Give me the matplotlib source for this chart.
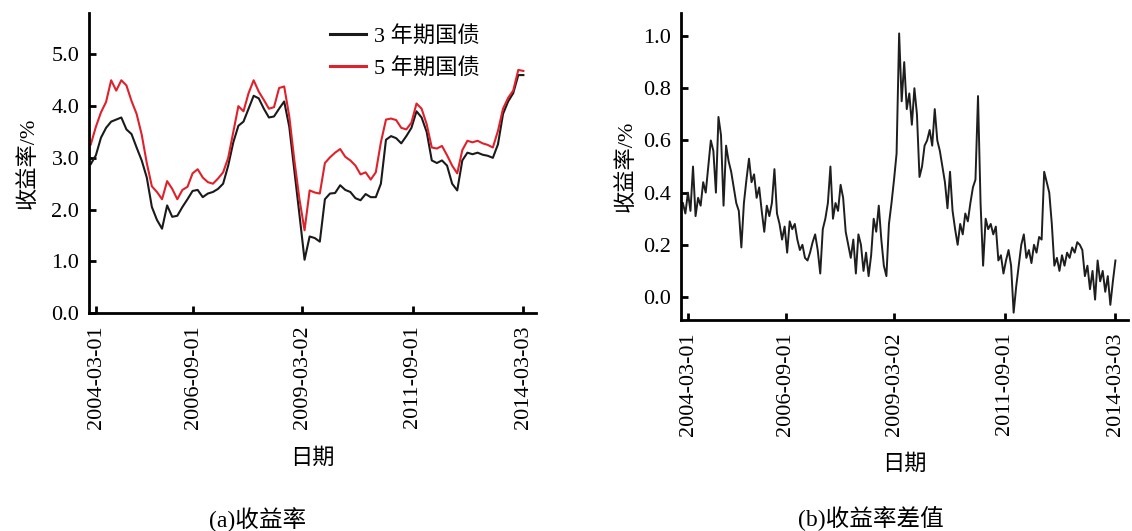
import numpy as np
import matplotlib
matplotlib.use('Agg')
import matplotlib.pyplot as plt
from matplotlib.ticker import FormatStrFormatter

# ---------------- data ----------------
tick_labels = ['2004-03-01', '2006-09-01', '2009-03-02', '2011-09-01', '2014-03-03']
tick_days = [30, 565, 1162, 1772, 2380]          # trading-day index of each label

yield_3y = [2.88, 3.05, 3.39, 3.58, 3.70, 3.74, 3.78, 3.55, 3.46, 3.20,
            2.95, 2.62, 2.05, 1.80, 1.63, 2.08, 1.86, 1.88, 2.05, 2.20,
            2.36, 2.38, 2.24, 2.31, 2.34, 2.40, 2.50, 2.85, 3.30, 3.62,
            3.70, 3.95, 4.20, 4.15, 3.95, 3.78, 3.80, 3.95, 4.09, 3.60,
            2.75, 1.90, 1.03, 1.48, 1.45, 1.38, 2.20, 2.31, 2.32, 2.47,
            2.38, 2.34, 2.22, 2.18, 2.30, 2.24, 2.24,
            2.50, 3.35, 3.42, 3.38, 3.28, 3.42, 3.58, 3.90, 3.78, 3.50,
            2.95, 2.90, 2.95, 2.85, 2.50, 2.37, 2.95, 3.10, 3.07, 3.10,
            3.06, 3.04, 3.00, 3.26, 3.85, 4.09, 4.25, 4.60, 4.60]

yield_5y = [3.26, 3.60, 3.88, 4.08, 4.50, 4.30, 4.50, 4.40, 4.10, 3.85,
            3.45, 2.90, 2.45, 2.34, 2.20, 2.55, 2.40, 2.20, 2.38, 2.44,
            2.70, 2.78, 2.62, 2.53, 2.50, 2.60, 2.72, 3.00, 3.50, 4.00,
            3.90, 4.25, 4.50, 4.28, 4.12, 3.95, 3.98, 4.35, 4.38, 3.80,
            2.95, 2.20, 1.60, 2.37, 2.33, 2.31, 2.90, 3.01, 3.10, 3.17,
            3.02, 2.95, 2.85, 2.68, 2.72, 2.58, 2.72,
            3.30, 3.74, 3.76, 3.73, 3.58, 3.55, 3.68, 4.05, 3.95, 3.65,
            3.20, 3.18, 3.23, 3.05, 2.85, 2.70, 3.15, 3.33, 3.30, 3.33,
            3.28, 3.25, 3.20, 3.52, 3.95, 4.16, 4.30, 4.70, 4.68]

spread = [0.36, 0.32, 0.40, 0.33, 0.50, 0.31, 0.38, 0.35, 0.44, 0.40,
          0.50, 0.60, 0.56, 0.40, 0.69, 0.62, 0.35, 0.58, 0.52, 0.48,
          0.42, 0.36, 0.33, 0.19, 0.36, 0.45, 0.53, 0.44, 0.47, 0.38,
          0.42, 0.33, 0.25, 0.35, 0.31, 0.36, 0.49, 0.32, 0.28, 0.22,
          0.27, 0.17, 0.29, 0.26, 0.28, 0.22, 0.18, 0.20, 0.15, 0.14,
          0.17, 0.21, 0.24, 0.18, 0.09, 0.26, 0.30, 0.36, 0.50, 0.30,
          0.36, 0.33, 0.43, 0.38, 0.25, 0.20, 0.15, 0.22, 0.09, 0.24,
          0.20, 0.10, 0.17, 0.08, 0.16, 0.30, 0.25, 0.35, 0.22, 0.12,
          0.08, 0.28, 0.36, 0.45, 0.55, 1.01, 0.75, 0.90, 0.72, 0.78,
          0.66, 0.80, 0.70, 0.46, 0.50, 0.58, 0.60, 0.64, 0.58, 0.72,
          0.60, 0.56, 0.50, 0.44, 0.34, 0.48, 0.33, 0.26, 0.20, 0.28,
          0.24, 0.32, 0.29, 0.36, 0.42, 0.45, 0.77, 0.36, 0.12, 0.30,
          0.26, 0.28, 0.24, 0.27, 0.14, 0.16, 0.09, 0.14, 0.18, 0.12,
          -0.06, 0.04, 0.12, 0.20, 0.24, 0.15, 0.18, 0.13, 0.20, 0.17,
          0.23, 0.22, 0.48, 0.44, 0.40, 0.28, 0.12, 0.15, 0.10, 0.16,
          0.12, 0.17, 0.15, 0.19, 0.17, 0.21, 0.20, 0.18, 0.08, 0.12,
          0.03, 0.10, -0.01, 0.14, 0.06, 0.10, 0.02, 0.08, -0.03, 0.06,
          0.14]

yield_step = 28      # trading days between yield samples
spread_step = 14     # trading days between spread samples
day_y = np.arange(len(yield_3y)) * yield_step
day_s = np.arange(len(spread)) * spread_step

# ---------------- styling ----------------
FONT = ['Liberation Serif', 'Noto Sans CJK SC']
plt.rcParams['font.family'] = FONT
plt.rcParams['axes.unicode_minus'] = False

fig = plt.figure(figsize=(11.32, 5.31), dpi=100)
ax1 = fig.add_axes([0.0786, 0.4105, 0.395, 0.565])
ax2 = fig.add_axes([0.6016, 0.3974, 0.395, 0.578])

ax1.plot(day_y, yield_3y, color='#1a1a1a', lw=1.5, label='3 年期国债')
ax1.plot(day_y, yield_5y, color='#e0202a', lw=1.5, label='5 年期国债')
ax2.plot(day_s, spread, color='#1e1e1e', lw=1.4)

ax1.set_ylim(0, 5.8)
ax1.set_yticks([0, 1, 2, 3, 4, 5])
ax2.set_ylim(-0.088, 1.088)
ax2.set_yticks([0.0, 0.2, 0.4, 0.6, 0.8, 1.0])

for ax in (ax1, ax2):
    ax.set_xlim(-10, 2450)
    ax.set_xticks(tick_days)
    ax.set_xticklabels(tick_labels, rotation=90, fontsize=16)
    ax.yaxis.set_major_formatter(FormatStrFormatter('%.1f'))
    for s in ('top', 'right'):
        ax.spines[s].set_visible(False)
    for s in ('left', 'bottom'):
        ax.spines[s].set_linewidth(2.0)
    ax.tick_params(axis='both', direction='in', length=5, width=2)
    ax.tick_params(axis='y', labelsize=16, pad=7)
    ax.tick_params(axis='x', pad=9)

ax1.set_ylabel('收益率/%', fontsize=16, labelpad=9)
ax2.set_ylabel('收益率/%', fontsize=16, labelpad=5)
ax1.set_xlabel('日期', fontsize=16, labelpad=14)
ax2.set_xlabel('日期', fontsize=16, labelpad=13)

leg = ax1.legend(loc='upper left', bbox_to_anchor=(330 / 1132, 1 - 26 / 531),
                 bbox_transform=fig.transFigure, frameon=False, fontsize=16,
                 handlelength=1.6, handletextpad=0.4, labelspacing=0.5,
                 borderpad=0, borderaxespad=0)
for line in leg.get_lines():
    line.set_linewidth(2.2)

fig.text(258 / 1132, 1 - 520 / 531, '(a)收益率', ha='center', va='center', fontsize=17)
fig.text(871 / 1132, 1 - 519 / 531, '(b)收益率差值', ha='center', va='center', fontsize=17)

fig.savefig('out.png', dpi=100)
